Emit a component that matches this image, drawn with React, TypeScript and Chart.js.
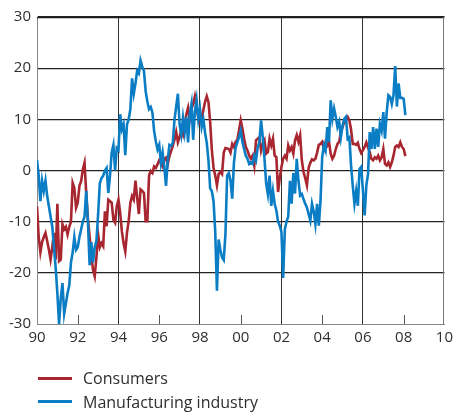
import React, { useEffect, useRef } from "react";
import { Chart, registerables } from "chart.js";

Chart.register(...registerables);

// Monthly data, first value = January 1990
const startYear = 1990;

const consumers: number[] = [
  -7, -13, -16, -14, -13, -12.2, -13.8, -15.5, -17.4, -15, -12.2, -17.4, // 1990
  -6.5, -17.7, -17.4, -10.5, -11.5, -11, -12.5, -11, -10, -2.4, -3.4, -7.3, // 1991
  -6.3, -3, -2.1, 0.2, 1.5, -4.4, -9.6, -12.9, -16.8, -19.4, -20.7, -17, // 1992
  -12.5, -15, -14.2, -14.8, -8, -10.9, -5.7, -6, -6.3, -9.6, -10.2, -7, // 1993
  -5.7, -8.3, -11.9, -14.2, -15.8, -12.2, -9.9, -6.3, -5, -5.7, -2, -5.3, // 1994
  -8.5, -3.7, -4, -4.4, -9.9, -9.9, -1, -0.1, -0.5, 0.8, 0.5, 1.2, // 1995
  2, 1.5, 0.8, 2.2, 2.5, 1.2, 2.8, 3.8, 4.8, 6, 7.5, 5.5, // 1996
  6.5, 8, 7, 9, 11, 12.3, 10, 12, 13, 14.5, 12.5, 10.5, // 1997
  9.5, 10.1, 11.8, 13.4, 14.5, 13.4, 9.5, 4, 0.5, -1, -2.9, -0.7, // 1998
  -0.3, -0.7, 3.5, 4.4, 4.3, 4.2, 3.5, 5.2, 4.6, 5.6, 6, 7.8, // 1999
  9.8, 8.2, 6.2, 4.6, 3.9, 2.9, 2.3, 2.9, 1, 5.9, 6.2, 6.5, // 2000
  3.9, 5.2, 5.9, 3.3, 3.6, 6.2, 4.9, 6.2, 2.9, 2.6, -4.2, -1.5, // 2001
  0.7, 2.3, 2.9, 2.3, 4.9, 3.9, 4.6, 3.3, 5.9, 6.9, 5.6, 6.9, // 2002
  2, -0.3, -1.5, -2.9, 0.5, 1.5, 2.2, 2, 2.3, 3.5, 5, 5.2, // 2003
  5.6, 4.2, 5.6, 4.9, 5.6, 3.3, 2.3, 2.9, 4.2, 5.2, 5.6, 7.5, // 2004
  8.5, 9.5, 10.1, 10.5, 9.8, 8, 5.2, 5.2, 5, 5.4, 4.2, 3.4, // 2005
  4, 4.6, 5.5, 4.5, 3.6, 2.3, 2, 2.6, 2.3, 2.9, 2, 2.6, // 2006
  4.2, 1.3, 1, 1.6, 0.7, 1.6, 2.9, 4.6, 4.9, 4.6, 5.5, 4.6, // 2007
  4.2, 2.8, // 2008
];

const manufacturing: number[] = [
  2, -1, -6, -2, -4, -2, -5, -7, -9, -11, -15, -19, // 1990
  -24, -30, -25, -22, -28, -26, -24, -22.5, -18, -16, -13, -15.5, // 1991
  -15, -13, -11.5, -10, -9, -4, -10, -18.5, -14, -18, -15, -13.8, // 1992
  -8.6, -2.5, -1.5, -1, 0, 0.5, -4.4, -1, 3.5, 5, 0, 4.4, // 1993
  4, 11, 8, 9, 3, 9, 10, 12, 18, 15, 17, 19.5, // 1994
  19, 21.5, 20.3, 19.5, 15.5, 13.5, 12, 12.4, 11.3, 7.7, 5.7, 4.1, // 1995
  5, 1.5, 3.5, 0.7, -3, 2, 5, 4.8, 5.4, 10, 12.5, 15, // 1996
  9, 7, 10.3, 7.5, 10.5, 5.5, 11, 13, 6, 11.5, 13.8, 10, // 1997
  12, 8.5, 10, 7.4, 5.4, 2, -3.5, -4, -6, -12, -23.5, -13.5, // 1998
  -15.5, -17, -17.5, -12.5, -1, -0.5, -2, -5.5, 1.5, 4.5, 5.5, 6.5, // 1999
  7.8, 5.6, 4.2, 2.9, 2.3, 1.3, 1.6, 1.3, 2.9, 2, 4.5, 5.5, // 2000
  9.8, 6.5, 2.3, -2.5, -4.6, -1, -6.9, -4, -6.5, -7.8, -10, -10.8, // 2001
  -12, -21, -11.5, -10, -9, -2, -6.5, -0.5, -4.5, 2.3, -2, -4.9, // 2002
  -4.6, -5.6, -6.5, -7.2, -8.5, -9.8, -6.5, -8, -10.5, -6.5, -10.8, -6, // 2003
  2.6, 4.9, 3.9, 8.5, 5.6, 13.7, 10.1, 12.1, 10.5, 8.5, 9.5, 6.5, // 2004
  8.8, 10.1, 10.5, 6.2, 6.5, 1, -3, -6.5, -4, -6.9, 0.3, 0.7, // 2005
  -4, -8.8, -2.9, -0.7, 7.5, 4.2, 8.5, 4.2, 8.2, 4.6, 9.1, 7.8, // 2006
  11.4, 6.2, 11.4, 14.7, 14.4, 13, 14.7, 20.4, 12.5, 17, 14.2, 14.2, // 2007
  14, 10.8, // 2008
];

const seriesNames = ["Consumers", "Manufacturing industry"];
const seriesColors = ["#a8262f", "#0a7dc4"];

const xTickYears = [1990, 1992, 1994, 1996, 1998, 2000, 2002, 2004, 2006, 2008, 2010];
const xTickLabels = ["90", "92", "94", "96", "98", "00", "02", "04", "06", "08", "10"];
const xGridYears = [1994, 1998, 2002, 2006];
const xShortTickYears = [1992, 1996, 2000, 2004, 2008];
const yTicks = [-30, -20, -10, 0, 10, 20, 30];

const FONT = "'Open Sans', 'DejaVu Sans', sans-serif";
const TEXT = "#2e2e2e";

const toPoints = (vals: number[]) =>
  vals.map((v, i) => ({ x: startYear + i / 12, y: v }));

const frameAndTicks = {
  id: "frameAndTicks",
  beforeDatasetsDraw(chart: any) {
    const { ctx, chartArea, scales } = chart;
    ctx.save();
    ctx.lineWidth = 1;
    // short inward ticks on the bottom axis
    ctx.strokeStyle = "#555555";
    xShortTickYears.forEach((yr) => {
      const px = Math.round(scales.x.getPixelForValue(yr)) + 0.5;
      ctx.beginPath();
      ctx.moveTo(px, chartArea.bottom);
      ctx.lineTo(px, chartArea.bottom - 9);
      ctx.stroke();
    });
    // top frame line (at the max of the value axis)
    const topY = Math.round(scales.y.getPixelForValue(30)) + 0.5;
    ctx.strokeStyle = "#1e1e1e";
    ctx.lineWidth = 1.4;
    ctx.beginPath();
    ctx.moveTo(chartArea.left, topY);
    ctx.lineTo(chartArea.right, topY);
    ctx.stroke();
    // right frame line (at the max of the year axis)
    const rightX = Math.round(scales.x.getPixelForValue(2010)) - 0.5;
    ctx.strokeStyle = "#777777";
    ctx.lineWidth = 1;
    ctx.beginPath();
    ctx.moveTo(rightX, chartArea.top);
    ctx.lineTo(rightX, chartArea.bottom);
    ctx.stroke();
    ctx.restore();
  },
};

export default function App() {
  const ref = useRef<HTMLCanvasElement | null>(null);

  useEffect(() => {
    if (!ref.current) return;
    const chart = new Chart(ref.current, {
      type: "line",
      data: {
        datasets: [
          {
            label: seriesNames[0],
            data: toPoints(consumers),
            borderColor: seriesColors[0],
            borderWidth: 2.6,
            pointRadius: 0,
            tension: 0,
            order: 1,
          },
          {
            label: seriesNames[1],
            data: toPoints(manufacturing),
            borderColor: seriesColors[1],
            borderWidth: 2.6,
            pointRadius: 0,
            tension: 0,
            order: 0,
          },
        ],
      },
      options: {
        responsive: false,
        animation: false,
        layout: { padding: { left: 0, right: 8, top: 17, bottom: 0 } },
        plugins: { legend: { display: false }, tooltip: { enabled: false } },
        scales: {
          x: {
            type: "linear",
            min: 1990,
            max: 2010,
            afterBuildTicks: (s: any) => {
              s.ticks = xTickYears.map((v) => ({ value: v }));
            },
            afterFit: (s: any) => {
              s.height = 88;
            },
            ticks: {
              autoSkip: false,
              maxRotation: 0,
              padding: 5,
              color: TEXT,
              font: { family: FONT, size: 15 },
              callback: (v: any) => xTickLabels[xTickYears.indexOf(Number(v))] ?? "",
            },
            grid: {
              drawTicks: false,
              lineWidth: 1,
              color: (c: any) => {
                const v = c.tick ? c.tick.value : null;
                if (xGridYears.includes(v)) return "#333333";
                return "rgba(0,0,0,0)";
              },
            },
            border: { display: true, color: "#888888", width: 1 },
          },
          y: {
            type: "linear",
            min: -30,
            max: 30,
            afterBuildTicks: (s: any) => {
              s.ticks = yTicks.map((v) => ({ value: v }));
            },
            afterFit: (s: any) => {
              s.width = 37;
            },
            ticks: {
              padding: 6,
              color: TEXT,
              font: { family: FONT, size: 15 },
              callback: (v: any) => String(v),
            },
            grid: {
              drawTicks: false,
              lineWidth: 1.2,
              color: (c: any) => {
                const v = c.tick ? c.tick.value : null;
                if (v === -30) return "rgba(0,0,0,0)";
                return "#222222";
              },
            },
            border: { display: true, color: "#888888", width: 1 },
          },
        },
      },
      plugins: [frameAndTicks],
    });
    return () => chart.destroy();
  }, []);

  const legendRow = (i: number, center: number) => (
    <React.Fragment key={i}>
      <div
        style={{
          position: "absolute",
          left: 38,
          top: center - 1.5,
          width: 34,
          height: 3,
          background: seriesColors[i],
        }}
      />
      <div
        style={{
          position: "absolute",
          left: 83,
          top: center - 11,
          height: 22,
          lineHeight: "22px",
          fontFamily: FONT,
          fontSize: 16,
          color: TEXT,
          whiteSpace: "nowrap",
        }}
      >
        {seriesNames[i]}
      </div>
    </React.Fragment>
  );

  return (
    <div
      style={{
        position: "absolute",
        left: 0,
        top: 0,
        width: 458,
        height: 412,
        background: "#ffffff",
        overflow: "hidden",
      }}
    >
      <canvas ref={ref} width={458} height={412} style={{ display: "block" }} />
      {legendRow(0, 378)}
      {legendRow(1, 401.5)}
    </div>
  );
}
